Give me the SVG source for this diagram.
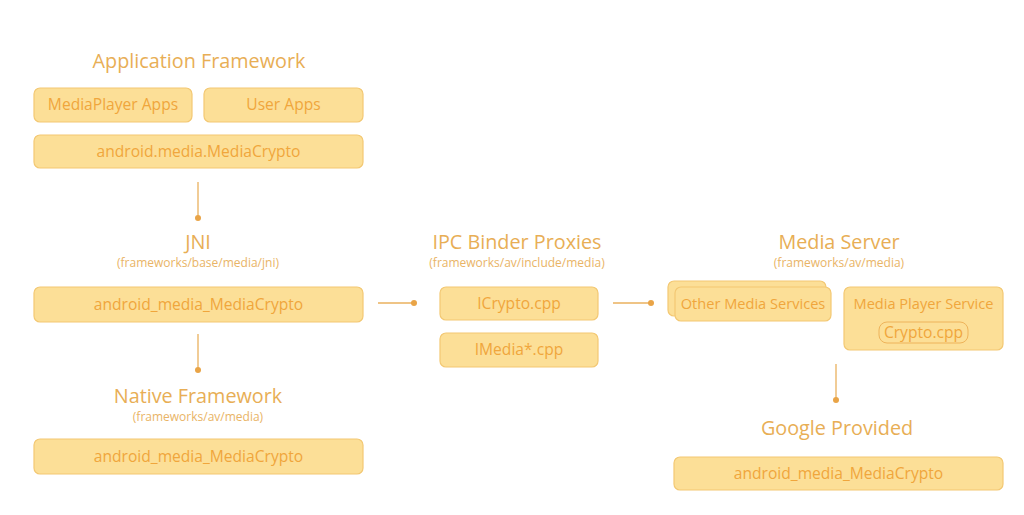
<svg xmlns="http://www.w3.org/2000/svg" width="1024" height="515" viewBox="0 0 1024 515">
<style>
.box{fill:#fcdf97;stroke:#f3c873;stroke-width:1.2}
.inner{fill:none;stroke:#eeb35a;stroke-width:1}
.bt{font-family:"Open Sans","DejaVu Sans",sans-serif;font-size:15.6px;fill:#f0a63c;text-anchor:middle}
.sm{font-size:14.6px}
.title{font-family:"Open Sans","DejaVu Sans",sans-serif;font-size:19.8px;fill:#e8ae55;text-anchor:middle}
.sub{font-family:"Open Sans","DejaVu Sans",sans-serif;font-size:12px;fill:#e9b466;text-anchor:middle}
.ln{stroke:#eab15e;stroke-width:1.3;fill:none}
.dot{fill:#e9a447}
</style>
<rect width="1024" height="515" fill="#ffffff"/>
<g id="app-framework">
<text class="title" x="199" y="68">Application Framework</text>
<rect class="box" x="34" y="88" width="158" height="34" rx="6"/>
<text class="bt" x="113" y="110">MediaPlayer Apps</text>
<rect class="box" x="204" y="88" width="159" height="34" rx="6"/>
<text class="bt" x="283.5" y="110">User Apps</text>
<rect class="box" x="34" y="135" width="329" height="33" rx="6"/>
<text class="bt" x="198.5" y="157">android.media.MediaCrypto</text>
</g>
<g id="jni">
<text class="title" x="198" y="249">JNI</text>
<text class="sub" x="198" y="267">(frameworks/base/media/jni)</text>
<rect class="box" x="34" y="287" width="329" height="35" rx="6"/>
<text class="bt" x="198.5" y="310">android_media_MediaCrypto</text>
</g>
<g id="native-framework">
<text class="title" x="198" y="403">Native Framework</text>
<text class="sub" x="198" y="421">(frameworks/av/media)</text>
<rect class="box" x="34" y="439" width="329" height="35" rx="6"/>
<text class="bt" x="198.5" y="462">android_media_MediaCrypto</text>
</g>
<g id="ipc-binder">
<text class="title" x="517" y="249">IPC Binder Proxies</text>
<text class="sub" x="517" y="267">(frameworks/av/include/media)</text>
<rect class="box" x="440" y="287" width="158" height="33" rx="6"/>
<text class="bt" x="519" y="309">ICrypto.cpp</text>
<rect class="box" x="440" y="333" width="158" height="34" rx="6"/>
<text class="bt" x="519" y="355">IMedia*.cpp</text>
</g>
<g id="media-server">
<text class="title" x="839" y="249">Media Server</text>
<text class="sub" x="839" y="267">(frameworks/av/media)</text>
<rect class="box" x="668" y="281" width="158" height="35" rx="6"/>
<rect class="box" x="675" y="287" width="156" height="34" rx="6"/>
<text class="bt sm" x="753" y="309">Other Media Services</text>
<rect class="box" x="844" y="287" width="159" height="63" rx="6"/>
<text class="bt sm" x="923.5" y="309">Media Player Service</text>
<rect class="inner" x="879" y="322" width="89" height="21" rx="8"/>
<text class="bt" x="923.5" y="338">Crypto.cpp</text>
</g>
<g id="google-provided">
<text class="title" x="837" y="435">Google Provided</text>
<rect class="box" x="674" y="457" width="329" height="33" rx="6"/>
<text class="bt" x="838.5" y="479">android_media_MediaCrypto</text>
</g>
<g id="connectors">
<line class="ln" x1="198" y1="182" x2="198" y2="218"/>
<circle class="dot" cx="198" cy="218" r="3"/>
<line class="ln" x1="198" y1="334" x2="198" y2="370"/>
<circle class="dot" cx="198" cy="370" r="3"/>
<line class="ln" x1="378" y1="303" x2="414" y2="303"/>
<circle class="dot" cx="414" cy="303" r="3"/>
<line class="ln" x1="613" y1="303" x2="651" y2="303"/>
<circle class="dot" cx="651" cy="303" r="3"/>
<line class="ln" x1="836" y1="364" x2="836" y2="400"/>
<circle class="dot" cx="836" cy="400" r="3"/>
</g>
</svg>
